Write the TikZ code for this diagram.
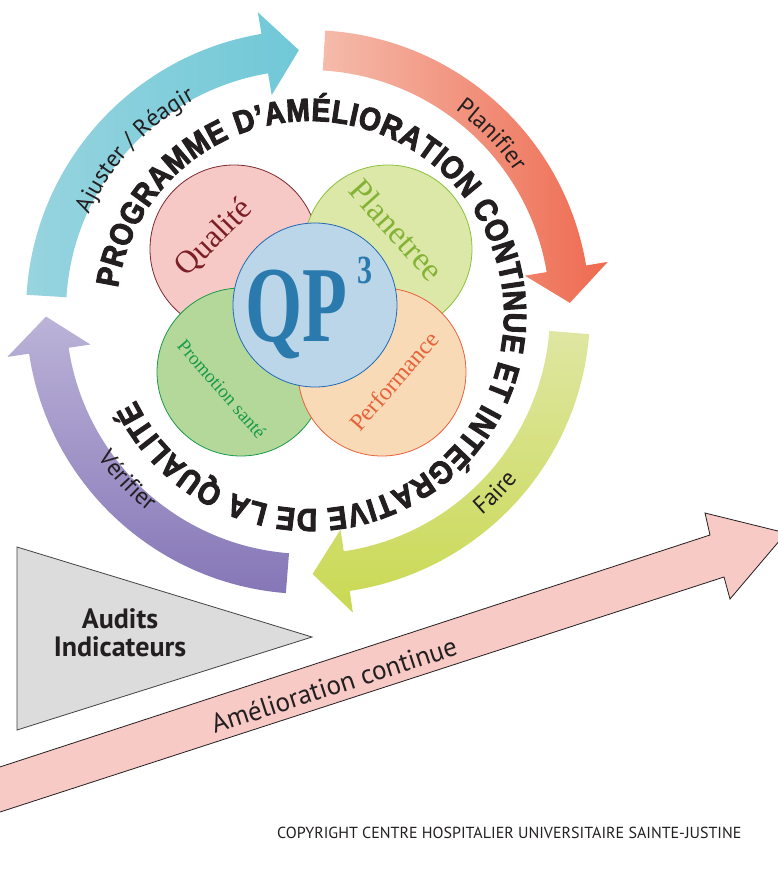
\documentclass[tikz,border=0pt]{standalone}
\usepackage{fontspec}
\usepackage{xcolor}
\usetikzlibrary{calc, decorations.text}

\newfontfamily\labelfont{PT Sans}
\newfontfamily\ringfont{Liberation Sans Bold}[FakeBold=3, FakeStretch=0.88]
\newfontfamily\petalfont{Liberation Serif}
\newfontfamily\qpfont{Liberation Serif Bold}

\definecolor{ajusterA}{HTML}{97D4DF}
\definecolor{ajusterB}{HTML}{70C8D7}
\definecolor{planA}{HTML}{F5BBAB}
\definecolor{planB}{HTML}{EE6A50}
\definecolor{faireA}{HTML}{DFE6A2}
\definecolor{faireB}{HTML}{C9D952}
\definecolor{verifA}{HTML}{BBB3D8}
\definecolor{verifB}{HTML}{8676B7}
\definecolor{qualFill}{HTML}{F6C8C6}
\definecolor{qualLine}{HTML}{7E2A2E}
\definecolor{qualText}{HTML}{7A1F25}
\definecolor{planetFill}{HTML}{DCE8A7}
\definecolor{planetLine}{HTML}{8DC03F}
\definecolor{planetText}{HTML}{84B236}
\definecolor{promoFill}{HTML}{B3D899}
\definecolor{promoLine}{HTML}{1A9A4A}
\definecolor{perfFill}{HTML}{F8DAB7}
\definecolor{perfLine}{HTML}{E8623A}
\definecolor{qpFill}{HTML}{BAD6E8}
\definecolor{qpLine}{HTML}{2169B2}
\definecolor{qpText}{HTML}{2A7AAE}
\definecolor{triFill}{HTML}{DCDCDC}
\definecolor{ameliFill}{HTML}{F7CAC6}
\definecolor{ink}{HTML}{231F20}

\newcommand{\cyclearrow}[1]{(#1:\Rout) arc[start angle=#1, end angle=#1-77, radius=\Rout]
  -- (#1-77:\Rhout) -- (#1-84.5:\Rmid) -- (#1-77:\Rhin) -- (#1-77:\Rin)
  arc[start angle=#1-77, end angle=#1, radius=\Rin] -- cycle}

\tikzset{
  petal/.style={circle, minimum size=168pt, inner sep=0pt, line width=0.8pt},
  petaltext/.style={inner sep=0pt, font=\petalfont\fontsize{#1}{#1}\selectfont},
  steplabel/.style={decorate, decoration={text along path, text align={center},
    text={|\labelfont\fontsize{24}{24}\selectfont\color{ink}|#1}}}
}

\begin{document}
\begin{tikzpicture}[x=1pt, y=1pt]
	\useasboundingbox (0,0) rectangle (778,-873);
	
	\def\Rin{242}
	\def\Rout{282}
	\def\Rmid{262}
	\def\Rhin{220}
	\def\Rhout{304}
	
	\coordinate (C) at (308,-312);
	\coordinate (T) at (310,-315);
	
	\begin{scope}[shift={(C)}]
		\shade[left color=ajusterA, right color=ajusterB] \cyclearrow{176.5};
		\shade[left color=planA, right color=planB] \cyclearrow{86.5};
		\shade[top color=faireA, bottom color=faireB] \cyclearrow{-4.5};
		\shade[top color=verifA, bottom color=verifB] \cyclearrow{-94.5};
		
		\path[steplabel={Ajuster / Réagir}] (162:240) arc[start angle=162, end angle=112, radius=240];
		\path[steplabel={Planifier}] (70:250) arc[start angle=70, end angle=18, radius=250];
		\path[steplabel={Faire}] (-70:268) arc[start angle=-70, end angle=-18, radius=268];
		\path[steplabel={Vérifier}] (196:256) arc[start angle=196, end angle=250, radius=256];
	\end{scope}
	
	\begin{scope}[shift={(T)}]
		\path[decorate, decoration={text along path, text align={fit to path},
			text={|\ringfont\fontsize{32}{32}\selectfont\color{ink}|PROGRAMME D’AMÉLIORATION CONTINUE ET INTÉGRATIVE DE LA QUALITÉ}}]
			(172:194) arc[start angle=172, end angle=-154, radius=194];
	\end{scope}
	
	\node[petal, fill=qualFill, draw=qualLine] (qualite) at (234,-249) {};
	\node[petal, fill=planetFill, draw=planetLine] (planetree) at (388,-249) {};
	\node[petal, fill=promoFill, draw=promoLine] (promotion) at (241,-372) {};
	\node[petal, fill=perfFill, draw=perfLine] (performance) at (382,-372) {};
	\node[circle, minimum size=164pt, inner sep=0pt, line width=0.8pt, fill=qpFill, draw=qpLine] (qp) at (315,-305) {};
	
	\node[petaltext=32, rotate=45, text=qualText] (qualiteText) at (214,-238) {Qualité};
	\node[petaltext=33, rotate=-48, text=planetText] (planetreeText) at (397,-230) {Planetree};
	\node[petaltext=19, rotate=-49, text=promoLine] (promotionText) at (222,-389) {Promotion santé};
	\node[petaltext=24, rotate=49, text=perfLine] (performanceText) at (394,-381) {Performance};
	
	\node[inner sep=0pt, xscale=0.68, anchor=base west, text=qpText, font=\qpfont\fontsize{108}{108}\selectfont] (qpText) at (245,-341) {QP};
	\node[inner sep=0pt, xscale=0.75, anchor=base west, text=qpText, font=\qpfont\fontsize{40}{40}\selectfont] (cube) at (357,-283) {3};
	
	\draw[fill=triFill, draw=ink!85, line width=0.8pt] (17,-547) -- (312,-637) -- (17,-730) -- cycle;
	\node[align=center, text=ink, font=\labelfont\bfseries\fontsize{28}{28}\selectfont] (audits) at (120,-633) {Audits\\Indicateurs};
	
	\draw[fill=ameliFill, draw=ink, line width=0.8pt] (-40,-780) -- (710,-535) -- (705,-513) -- (786,-533)
		-- (730,-599) -- (724,-577) -- (-40,-825) -- cycle;
	\node[rotate=18, text=ink, font=\labelfont\fontsize{27}{27}\selectfont] (amelioration) at (334,-685) {Amélioration continue};
	
	\node[anchor=base east, text=ink, font=\labelfont\fontsize{16}{16}\selectfont] (copyright) at (745,-838) {COPYRIGHT CENTRE HOSPITALIER UNIVERSITAIRE SAINTE-JUSTINE};
\end{tikzpicture}
\end{document}
